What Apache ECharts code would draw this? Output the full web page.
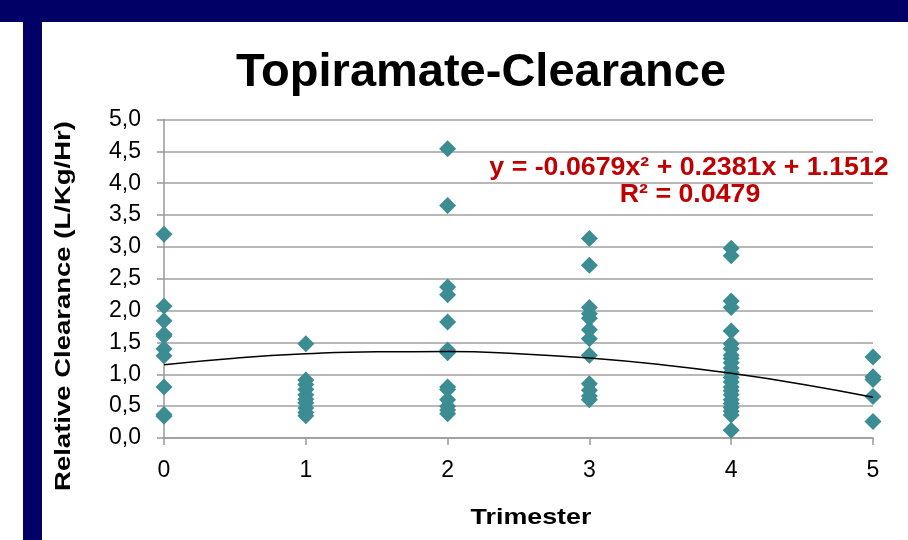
<!DOCTYPE html>
<html><head><meta charset="utf-8">
<script src="https://cdn.jsdelivr.net/npm/echarts@6/dist/echarts.min.js"></script>
<style>html,body{margin:0;padding:0;background:#fff}#c{width:908px;height:540px}</style>
</head><body><div id="c"></div>
<script>
const titleText = "Topiramate-Clearance";
const xName = "Trimester";
const yName = "Relative Clearance (L/Kg/Hr)";
const eqLine1 = "y = -0.0679x² + 0.2381x + 1.1512";
const eqLine2 = "R² = 0.0479";
const xTicks = [0, 1, 2, 3, 4, 5];
const yTicks = [0, 0.5, 1, 1.5, 2, 2.5, 3, 3.5, 4, 4.5, 5];

const t0 = [3.20, 2.07, 1.84, 1.63, 1.60, 1.40, 1.29, 0.80, 0.37, 0.34];
const t1 = [1.48, 0.91, 0.84, 0.76, 0.68, 0.61, 0.55, 0.47, 0.40, 0.35];
const t2 = [4.54, 3.65, 2.37, 2.25, 1.82, 1.38, 1.34, 0.80, 0.76, 0.60, 0.50, 0.44, 0.38];
const t3 = [3.13, 2.71, 2.05, 1.95, 1.88, 1.70, 1.56, 1.30, 0.85, 0.75, 0.66, 0.60];
const t4 = [2.98, 2.86, 2.15, 2.05, 1.68, 1.48, 1.40, 1.30, 1.25, 1.18, 1.10, 1.03, 0.95, 0.88, 0.80, 0.74, 0.68, 0.60, 0.54, 0.48, 0.42, 0.36, 0.12];
const t5 = [1.27, 0.96, 0.92, 0.65, 0.26];

const trendX = [0, 0.5, 1, 1.5, 2, 2.5, 3, 3.5, 4, 4.5, 5];
const trendY = [1.151, 1.253, 1.321, 1.354, 1.356, 1.322, 1.254, 1.152, 1.016, 0.845, 0.640];

const groups = [t0, t1, t2, t3, t4, t5];
const scatterData = [];
groups.forEach((arr, i) => arr.forEach(v => scatterData.push([xTicks[i], v])));
const trendData = trendX.map((x, i) => [x, trendY[i]]);

const chart = echarts.init(document.getElementById('c'), null, {renderer: 'canvas'});
const FONT = '"Liberation Sans", Arial, sans-serif';
chart.setOption({
  backgroundColor: '#fff',
  animation: false,
  grid: {left: 164, right: 35, top: 119.5, bottom: 102, containLabel: false},
  xAxis: {
    type: 'value', min: 0, max: 5, interval: 1,
    axisLine: {show: true, lineStyle: {color: '#999', width: 1.5}},
    axisTick: {show: true, inside: false, length: 7, lineStyle: {color: '#999', width: 1.5}},
    axisLabel: {color: '#000', fontSize: 23, fontFamily: FONT, margin: 21},
    splitLine: {show: false}
  },
  yAxis: {
    type: 'value', min: 0, max: 5, interval: 0.5,
    axisLine: {show: true, lineStyle: {color: '#999', width: 1.5}},
    axisTick: {show: true, inside: false, length: 7, lineStyle: {color: '#999', width: 1.5}},
    axisLabel: {color: '#000', fontSize: 23, fontFamily: FONT, margin: 23,
      formatter: v => v.toFixed(1).replace('.', ',')},
    splitLine: {show: true, lineStyle: {color: '#a0a0a0', width: 1.5}}
  },
  series: [
    {type: 'line', data: trendData, smooth: true, showSymbol: false, symbol: 'none',
     lineStyle: {color: '#000', width: 1.5}, z: 3},
    {type: 'scatter', data: scatterData, symbol: 'diamond', symbolSize: [17, 17],
     itemStyle: {color: '#3C8C93', opacity: 1}, z: 2}
  ],
  graphic: [
    {type: 'rect', shape: {x: 0, y: 0, width: 908, height: 22}, style: {fill: '#000066'}, silent: true},
    {type: 'rect', shape: {x: 23, y: 22, width: 19, height: 518}, style: {fill: '#000066'}, silent: true},
    {type: 'text', x: 481, y: 73, style: {text: titleText, font: 'bold 47px ' + FONT, fill: '#000', textAlign: 'center', textVerticalAlign: 'middle'}},
    {type: 'text', x: 531, y: 518, scaleX: 1.22, style: {text: xName, font: 'bold 22px ' + FONT, fill: '#000', textAlign: 'center', textVerticalAlign: 'middle'}},
    {type: 'text', x: 64, y: 306, rotation: Math.PI / 2, scaleX: 1.25, style: {text: yName, font: 'bold 22px ' + FONT, fill: '#000', textAlign: 'center', textVerticalAlign: 'middle'}},
    {type: 'text', x: 689, y: 168, scaleX: 1.07, style: {text: eqLine1, font: 'bold 25px ' + FONT, fill: '#C00000', textAlign: 'center', textVerticalAlign: 'middle'}},
    {type: 'text', x: 690, y: 195, scaleX: 1.07, style: {text: eqLine2, font: 'bold 25px ' + FONT, fill: '#C00000', textAlign: 'center', textVerticalAlign: 'middle'}}
  ]
});
</script></body></html>
